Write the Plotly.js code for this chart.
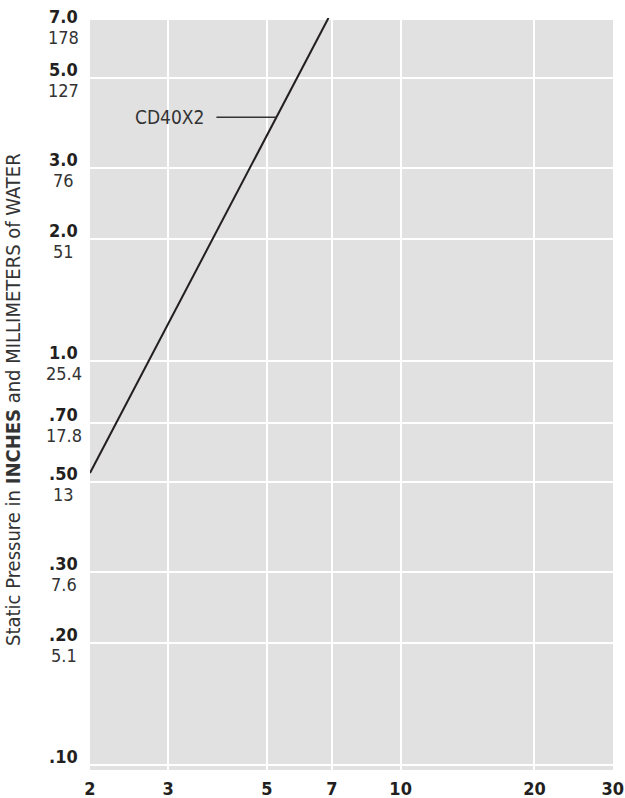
<!DOCTYPE html>
<html>
<head>
<meta charset="utf-8">
<script src="https://cdn.plot.ly/plotly-3.0.1.min.js"></script>
<style>html,body{margin:0;padding:0;background:#fff;}#chart{width:625px;height:798px;}</style>
</head>
<body>
<div id="chart"></div>
<script>
// Data
const curveName = "CD40X2";
const flowX = [2, 6.88];
const pressureY = [0.527, 7.05];
const xTickVals = [2, 3, 5, 7, 10, 20, 30];
const xTickText = ["2", "3", "5", "7", "10", "20", "30"];
const yInches = [7.0, 5.0, 3.0, 2.0, 1.0, 0.70, 0.50, 0.30, 0.20, 0.10];
const yInchText = ["7.0", "5.0", "3.0", "2.0", "1.0", ".70", ".50", ".30", ".20", ".10"];
const yMmText = ["178", "127", "76", "51", "25.4", "17.8", "13", "7.6", "5.1", ""];
const leaderX = [3.85, 5.25];
const leaderY = [4.0, 4.0];

const FONT = "Liberation Sans Narrow, DejaVu Sans Condensed, Arial Narrow, sans-serif";
const TXT = "#231f20";

const annotations = [];
const labelX = (63.5 - 90) / 523;
yInches.forEach((v, i) => {
  const extra = (v === 7.0) ? -6 : 0;
  annotations.push({
    xref: "paper", yref: "y", x: labelX, y: Math.log10(v),
    xanchor: "center", yanchor: "bottom", showarrow: false, borderpad: 0,
    text: "<b>" + yInchText[i] + "</b>", yshift: -3 + extra,
    font: {family: FONT, size: 18, color: TXT}
  });
  if (yMmText[i]) {
    annotations.push({
      xref: "paper", yref: "y", x: labelX, y: Math.log10(v),
      xanchor: "center", yanchor: "top", showarrow: false, borderpad: 0,
      text: yMmText[i], yshift: -1 + extra,
      font: {family: FONT, size: 18, color: "#333"}
    });
  }
});
annotations.push({
  xref: "x", yref: "y", x: Math.log10(leaderX[0]), y: Math.log10(leaderY[0]),
  xanchor: "right", yanchor: "middle", showarrow: false, xshift: -10,
  text: curveName, font: {family: FONT, size: 19, color: "#333"}
});
annotations.push({
  xref: "paper", yref: "paper", x: (13 - 90) / 523, y: (798 - 28 - 400) / 752 ,
  xanchor: "center", yanchor: "middle", showarrow: false, textangle: -90,
  text: "Static Pressure in <b>INCHES</b> and MILLIMETERS of WATER",
  font: {family: FONT, size: 20, color: "#333"}
});

const traces = [
  {x: flowX, y: pressureY, type: "scatter", mode: "lines",
   line: {color: TXT, width: 2}, hoverinfo: "skip", cliponaxis: true, showlegend: false},
  {x: leaderX, y: leaderY, type: "scatter", mode: "lines",
   line: {color: "#333", width: 1.5}, hoverinfo: "skip", showlegend: false}
];

const layout = {
  width: 625, height: 798,
  margin: {l: 90, r: 12, t: 18, b: 28},
  paper_bgcolor: "#ffffff", plot_bgcolor: "#e1e1e1",
  showlegend: false,
  xaxis: {
    type: "log", range: [Math.log10(2), Math.log10(30.05)],
    tickvals: xTickVals, ticktext: xTickText.map(t => "<b>" + t + "</b>"),
    showgrid: true, gridcolor: "#ffffff", gridwidth: 2,
    zeroline: false, showline: false, ticks: "",
    ticklabelstandoff: 6,
    tickfont: {family: FONT, size: 18, color: TXT}
  },
  yaxis: {
    type: "log", range: [-1.0136, 0.848],
    tickvals: yInches, showticklabels: false,
    showgrid: true, gridcolor: "#ffffff", gridwidth: 2,
    zeroline: false, showline: false, ticks: ""
  },
  annotations: annotations
};

Plotly.newPlot("chart", traces, layout, {displayModeBar: false, staticPlot: true});
</script>
</body>
</html>
